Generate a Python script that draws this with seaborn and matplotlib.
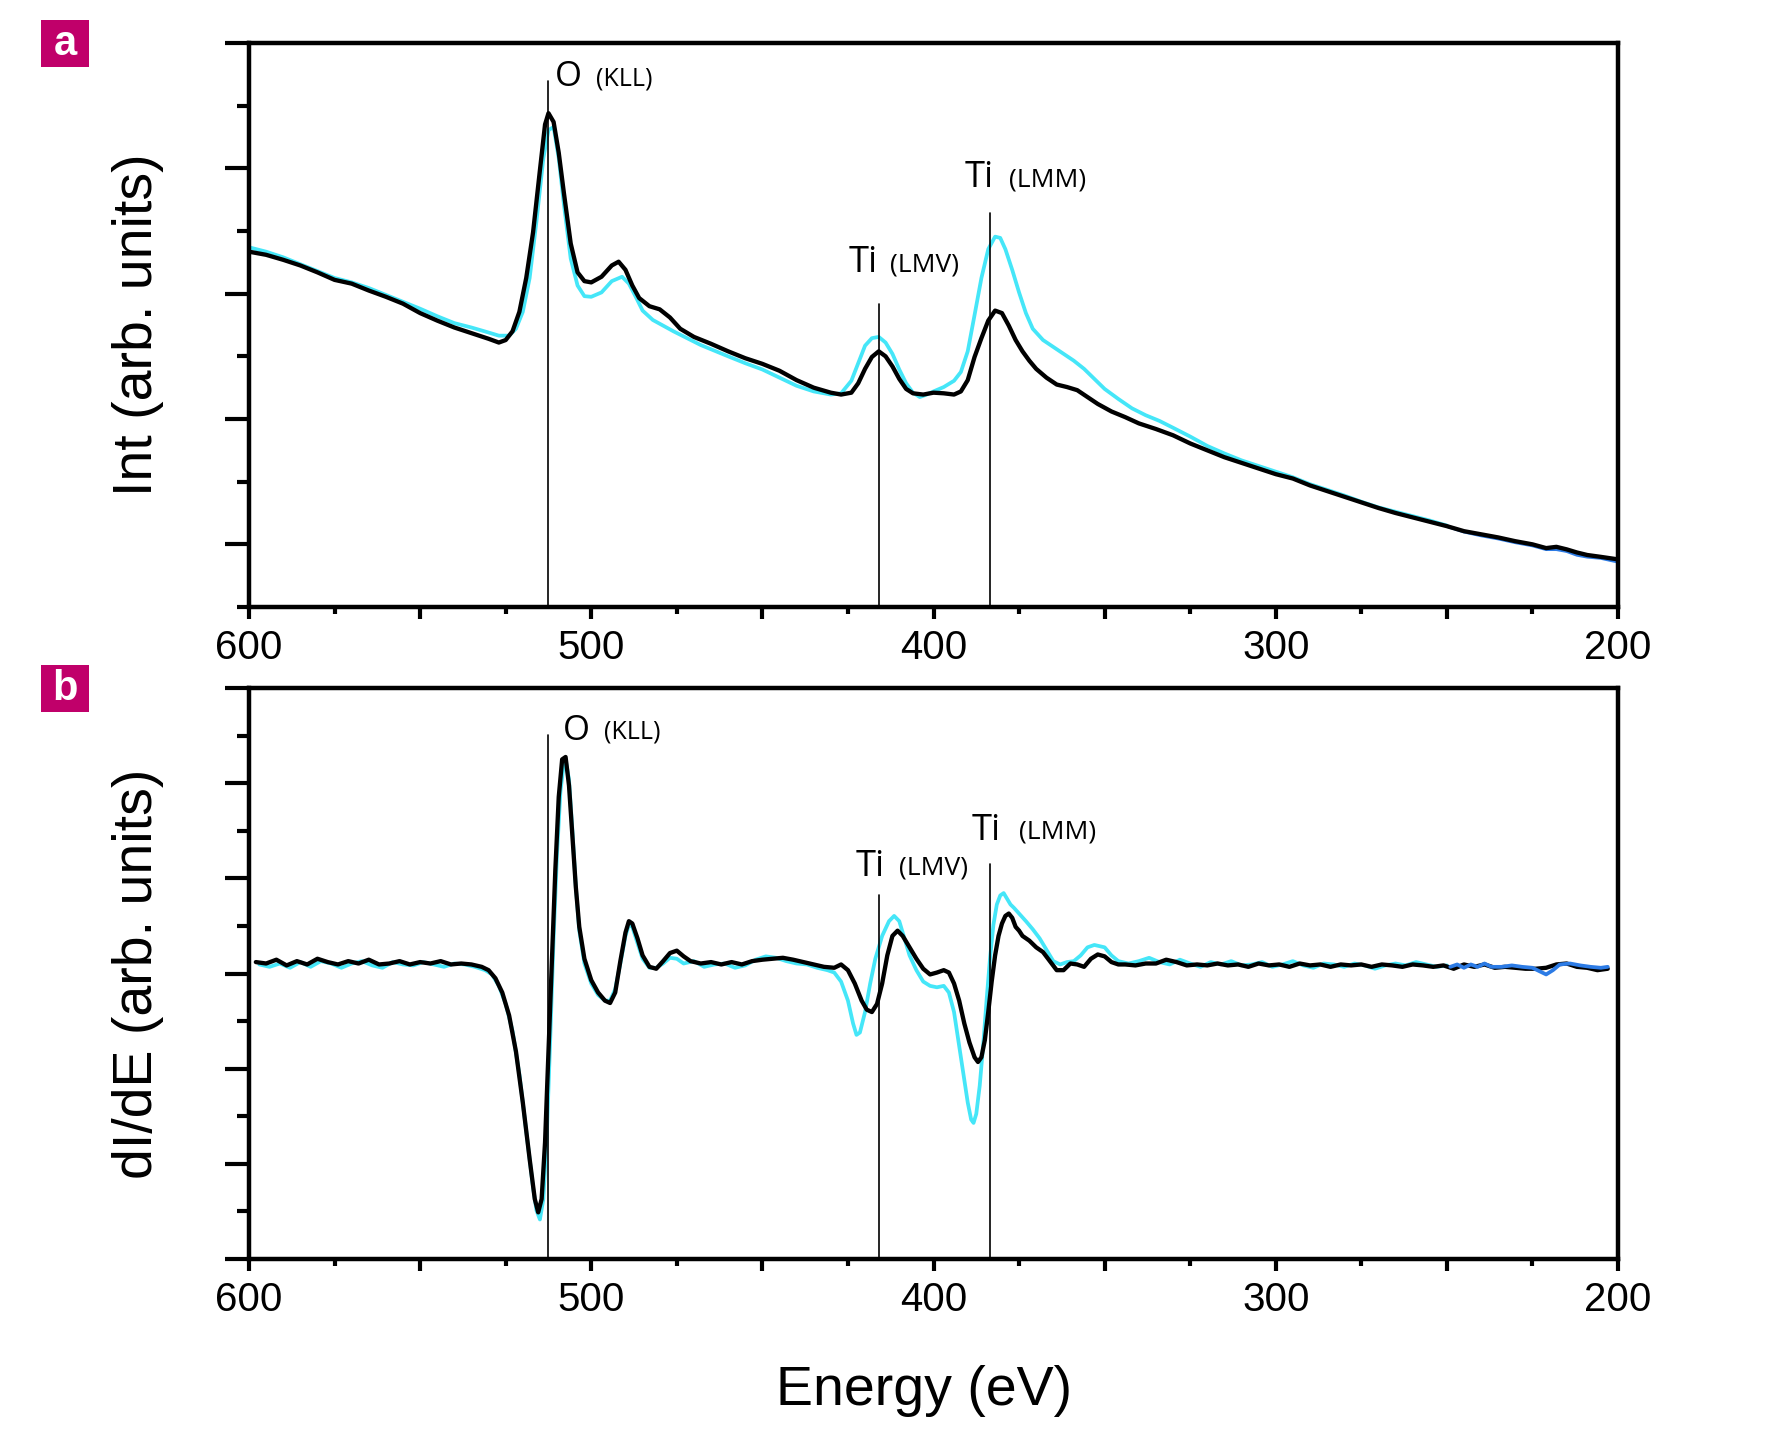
import numpy as np
import pandas as pd
import matplotlib
matplotlib.use("Agg")
import matplotlib.pyplot as plt
import matplotlib.patches as patches
from matplotlib.ticker import FixedLocator, FuncFormatter, MultipleLocator
import seaborn as sns

# ---------------- data ----------------
# Panel a: Auger intensity (arb. units)
a_black_E = [600, 595, 590, 585, 580, 575, 570, 565, 560, 555, 550, 545, 540, 535, 530, 527, 525, 523, 521, 519,
             517, 515, 513.5, 512.5, 511, 509.5, 508, 506, 504, 502, 500, 497, 494, 492, 490, 488, 486, 483, 480, 477,
             474, 470, 465, 460, 455, 450, 445, 440, 435, 430, 427, 424, 422, 420, 418, 416, 414, 412, 410, 408,
             406, 403, 400, 397, 394, 392, 390, 388, 386, 384, 382, 380, 378, 376, 374, 372, 370, 367, 364, 361,
             358, 355, 352, 348, 344, 340, 335, 330, 325, 320, 315, 310, 305, 300, 295, 290, 285, 280, 275, 270,
             265, 260, 255, 250, 245, 240, 235, 230, 225, 221, 218, 215, 212, 209, 205, 200]
a_black_I = [5.67, 5.62, 5.54, 5.45, 5.34, 5.22, 5.16, 5.05, 4.95, 4.84, 4.69, 4.57, 4.46, 4.37, 4.28, 4.22, 4.26, 4.40, 4.71, 5.25,
             5.98, 6.97, 7.70, 7.88, 7.74, 7.25, 6.61, 5.80, 5.34, 5.20, 5.18, 5.27, 5.45, 5.51, 5.38, 5.13, 4.93, 4.80, 4.75, 4.62,
             4.44, 4.31, 4.20, 4.08, 3.97, 3.88, 3.77, 3.62, 3.50, 3.42, 3.39, 3.42, 3.57, 3.80, 3.99, 4.08, 4.00, 3.84, 3.64, 3.48,
             3.41, 3.39, 3.42, 3.41, 3.39, 3.44, 3.62, 3.99, 4.29, 4.57, 4.73, 4.69, 4.49, 4.26, 4.08, 3.93, 3.80, 3.66, 3.55, 3.51,
             3.46, 3.35, 3.24, 3.12, 3.03, 2.93, 2.84, 2.74, 2.61, 2.50, 2.39, 2.30, 2.21, 2.12, 2.05, 1.94, 1.85, 1.76, 1.67, 1.58,
             1.50, 1.43, 1.36, 1.29, 1.21, 1.16, 1.11, 1.05, 1.00, 0.94, 0.96, 0.92, 0.87, 0.83, 0.80, 0.76]

a_cyan_E = [600, 595, 590, 585, 580, 575, 570, 565, 560, 555, 550, 545, 540, 535, 530, 527, 524, 522, 520, 518,
            516, 514, 512.5, 511, 509.5, 508, 506, 504, 502, 500, 497, 494, 491, 489, 487, 485, 482, 479, 476, 472,
            468, 464, 460, 455, 450, 445, 440, 435, 430, 427, 424, 422, 420, 418, 416, 414, 412, 410, 408, 406,
            404, 402, 400, 397, 394, 392, 390, 388, 386, 384, 382, 380.5, 379, 377, 375, 373, 371, 368, 365, 362,
            359, 356, 353, 350, 346, 342, 338, 334, 330, 325, 320, 315, 310, 305, 300, 295, 290, 285, 280, 275,
            270, 265, 260, 255, 250]
a_cyan_I = [5.74, 5.67, 5.58, 5.47, 5.36, 5.25, 5.18, 5.09, 4.98, 4.87, 4.76, 4.64, 4.53, 4.46, 4.38, 4.33, 4.33, 4.44, 4.71, 5.25,
            6.16, 7.16, 7.61, 7.66, 7.16, 6.43, 5.56, 5.13, 4.96, 4.95, 5.02, 5.20, 5.27, 5.16, 4.95, 4.73, 4.58, 4.49, 4.40, 4.29,
            4.18, 4.09, 4.00, 3.89, 3.79, 3.66, 3.53, 3.44, 3.39, 3.41, 3.61, 3.89, 4.17, 4.29, 4.31, 4.22, 4.04, 3.79, 3.57, 3.42,
            3.35, 3.39, 3.44, 3.51, 3.61, 3.75, 4.08, 4.66, 5.25, 5.71, 5.91, 5.89, 5.71, 5.38, 5.02, 4.69, 4.44, 4.26, 4.15, 4.04,
            3.93, 3.80, 3.64, 3.48, 3.32, 3.17, 3.06, 2.97, 2.86, 2.72, 2.57, 2.45, 2.34, 2.25, 2.16, 2.07, 1.96, 1.87, 1.78, 1.68,
            1.59, 1.52, 1.45, 1.38, 1.30]

a_blue_E = [250, 245, 240, 235, 230, 225, 221, 218, 215, 212, 209, 205, 200]
a_blue_I = [1.29, 1.20, 1.14, 1.09, 1.03, 0.98, 0.92, 0.92, 0.89, 0.83, 0.80, 0.78, 0.72]

# Panel b: derivative spectra dI/dE (arb. units)
b_black_E = [598, 595, 592, 589, 586, 583, 580, 577, 574, 571, 568, 565, 562, 559, 556, 553, 550, 547, 544, 541,
             538, 535, 532, 530, 528, 526, 524, 522, 520, 518, 516.5, 515.5, 514.5, 513.5, 512.5, 511.5, 510.5, 509.5, 508.5, 507.5,
             506.5, 505.5, 504.5, 503.5, 502, 500, 498, 496, 494.5, 493, 491.5, 490, 489, 488, 486.5, 485, 483, 481, 479, 477,
             475, 473, 471, 468, 465, 462, 459, 456, 453, 450, 447, 444, 441, 438, 435, 432, 429, 427, 425, 423,
             421, 419.5, 418, 416.5, 415, 413.5, 412, 410.5, 409, 407, 405, 403, 401, 399, 397, 395.5, 394, 392.5, 391, 389.5,
             388, 387, 386, 385, 384, 383, 382, 381, 380, 379, 378, 377, 376, 375, 374, 372, 370, 368, 366, 364,
             362, 360, 358, 356, 354, 352, 350, 348, 346, 344, 341, 338, 335, 332, 329, 326, 323, 320, 317, 314,
             311, 308, 305, 302, 299, 296, 293, 290, 287, 284, 281, 278, 275, 272, 269, 266, 263, 260, 257, 254,
             251, 248, 245, 242, 239, 236, 233, 230, 227, 224, 221, 218, 215, 212, 209, 206, 203]
b_black_D = [0.24, 0.21, 0.29, 0.17, 0.26, 0.19, 0.31, 0.24, 0.19, 0.26, 0.21, 0.29, 0.19, 0.21, 0.26, 0.19, 0.24, 0.21, 0.26, 0.19,
             0.21, 0.19, 0.14, 0.07, -0.10, -0.40, -0.88, -1.64, -2.71, -3.90, -4.74, -5.02, -4.74, -3.55, -1.64, 0.26, 2.17, 3.71, 4.50, 4.55,
             3.95, 2.88, 1.81, 0.98, 0.31, -0.14, -0.40, -0.57, -0.62, -0.40, 0.26, 0.86, 1.10, 1.05, 0.74, 0.38, 0.14, 0.10, 0.26, 0.43,
             0.48, 0.36, 0.26, 0.21, 0.24, 0.19, 0.24, 0.19, 0.26, 0.29, 0.31, 0.33, 0.29, 0.24, 0.19, 0.14, 0.12, 0.19, 0.07, -0.21,
             -0.57, -0.76, -0.81, -0.64, -0.21, 0.38, 0.79, 0.90, 0.79, 0.55, 0.31, 0.10, -0.02, 0.02, 0.07, 0.02, -0.21, -0.57, -1.05, -1.45,
             -1.76, -1.86, -1.76, -1.40, -0.81, -0.17, 0.38, 0.79, 1.05, 1.21, 1.26, 1.17, 0.98, 0.90, 0.79, 0.69, 0.55, 0.45, 0.26, 0.07,
             0.07, 0.21, 0.19, 0.14, 0.31, 0.40, 0.36, 0.24, 0.19, 0.19, 0.17, 0.21, 0.21, 0.29, 0.24, 0.17, 0.19, 0.17, 0.21, 0.17,
             0.19, 0.14, 0.21, 0.17, 0.19, 0.14, 0.21, 0.17, 0.19, 0.14, 0.19, 0.17, 0.19, 0.14, 0.19, 0.17, 0.14, 0.19, 0.17, 0.14,
             0.17, 0.10, 0.19, 0.14, 0.19, 0.12, 0.14, 0.12, 0.10, 0.10, 0.12, 0.19, 0.21, 0.14, 0.12, 0.07, 0.10]

b_cyan_E = [597, 594, 591, 588, 585, 582, 579, 576, 573, 570, 567, 564, 561, 558, 555, 552, 549, 546, 543, 540,
            537, 534, 531, 529, 527, 525, 523, 521, 519, 517, 516, 515, 514, 513, 512, 511, 510, 509, 508, 507.5,
            506.5, 505.5, 504.5, 503.5, 502, 500, 498, 496, 494.5, 493, 491.5, 490, 489, 488, 486.5, 485, 483, 481, 479, 477,
            475, 473, 470, 467, 464, 461, 458, 455, 452, 449, 446, 443, 440, 437, 434, 431, 429, 427, 425, 423.5,
            422.5, 421.5, 420, 418.5, 417, 415, 413, 411.5, 410, 408.5, 407, 405, 403, 401, 399, 397, 395.5, 394, 392.5, 391,
            390, 389, 388.3, 387.5, 386.5, 385.5, 384.5, 383.5, 382.5, 381.5, 380.5, 379.5, 378.5, 377.5, 376.5, 375, 373, 371, 369, 367,
            365, 363, 361, 359, 357, 355, 353, 350, 348, 346, 343, 340, 337, 334, 331, 328, 325, 322, 319, 316,
            313, 310, 307, 304, 301, 298, 295, 292, 289, 286, 283, 280, 277, 274, 271, 268, 265, 262, 259, 256,
            253, 250]
b_cyan_D = [0.19, 0.14, 0.21, 0.12, 0.24, 0.14, 0.26, 0.21, 0.12, 0.21, 0.26, 0.17, 0.12, 0.24, 0.19, 0.17, 0.24, 0.19, 0.14, 0.21,
            0.19, 0.14, 0.07, -0.02, -0.26, -0.64, -1.21, -2.12, -3.31, -4.50, -4.98, -5.17, -4.74, -3.43, -1.40, 0.74, 2.52, 3.83, 4.43, 4.50,
            4.07, 3.00, 1.81, 0.90, 0.21, -0.21, -0.45, -0.57, -0.57, -0.33, 0.21, 0.79, 1.02, 0.98, 0.64, 0.31, 0.12, 0.12, 0.21, 0.33,
            0.31, 0.21, 0.26, 0.14, 0.19, 0.21, 0.12, 0.17, 0.29, 0.36, 0.33, 0.26, 0.21, 0.19, 0.12, 0.07, 0.02, -0.17, -0.57, -1.05,
            -1.29, -1.24, -0.81, -0.21, 0.31, 0.79, 1.10, 1.21, 1.10, 0.74, 0.38, 0.07, -0.17, -0.26, -0.29, -0.26, -0.40, -0.81, -1.52, -2.24,
            -2.71, -3.07, -3.14, -2.95, -2.36, -1.52, -0.57, 0.31, 1.02, 1.45, 1.64, 1.69, 1.57, 1.45, 1.38, 1.26, 1.10, 0.93, 0.74, 0.50,
            0.26, 0.19, 0.24, 0.26, 0.38, 0.55, 0.60, 0.55, 0.38, 0.26, 0.21, 0.26, 0.33, 0.24, 0.19, 0.29, 0.21, 0.14, 0.24, 0.19,
            0.26, 0.17, 0.19, 0.24, 0.14, 0.19, 0.26, 0.17, 0.12, 0.21, 0.19, 0.14, 0.21, 0.17, 0.10, 0.17, 0.21, 0.17, 0.24, 0.19,
            0.14, 0.17]

b_blue_E = [249, 247, 245, 243, 241, 239, 237, 234, 231, 228, 225, 223, 221, 219, 217, 214, 211, 208, 205, 203]
b_blue_D = [0.14, 0.19, 0.12, 0.19, 0.14, 0.21, 0.14, 0.14, 0.17, 0.14, 0.12, 0.05, -0.02, 0.07, 0.19, 0.21, 0.17, 0.14, 0.12, 0.14]

# Auger transitions: energies and labels
peak_E = [512.7, 415.9, 383.5]
peak_main = ["O", "Ti", "Ti"]
peak_sub = ["(KLL)", "(LMV)", "(LMM)"]
a_line_top = [8.39, 4.84, 6.29]
b_line_top = [5.02, 1.64, 2.31]
a_label_pos = [(510.7, 8.46, 498.5), (424.8, 5.49, 412.6), (391.0, 6.85, 378.0)]
b_label_pos = [(508.4, 5.10, 496.2), (422.8, 2.24, 410.0), (389.0, 3.00, 375.0)]

x_major = [600, 550, 500, 450, 400, 350, 300, 250, 200]

# ---------------- styling ----------------
sns.set_theme(style="ticks")
plt.rcParams["font.family"] = ["Liberation Sans", "DejaVu Sans"]
plt.rcParams["text.color"] = "black"
plt.rcParams["axes.labelcolor"] = "black"
plt.rcParams["xtick.color"] = "black"
plt.rcParams["ytick.color"] = "black"
plt.rcParams["xtick.labelcolor"] = "black"
plt.rcParams["ytick.labelcolor"] = "black"
plt.rcParams["lines.solid_joinstyle"] = "round"
plt.rcParams["lines.solid_capstyle"] = "round"

BLACK = "#000000"
CYAN = "#45E6F8"
BLUE = "#2C7BE5"
MAGENTA = "#C0006A"

W, H = 1773, 1438
fig = plt.figure(figsize=(W / 100, H / 100), dpi=100)
ax_a = fig.add_axes([249 / W, 1 - 607 / H, (1618 - 249) / W, (607 - 43) / H])
ax_b = fig.add_axes([249 / W, 1 - 1259 / H, (1618 - 249) / W, (1259 - 688) / H])


def series(E, v, name):
    return pd.DataFrame({"E": E, "v": v, "s": name})


def draw(ax, frames, order):
    for name, color, lw in order:
        d = frames[name]
        sns.lineplot(data=d, x="E", y="v", ax=ax, color=color, linewidth=lw,
                     estimator=None, sort=False, legend=False)


frames_a = {"cyan": series(a_cyan_E, a_cyan_I, "cyan"),
            "blue": series(a_blue_E, a_blue_I, "blue"),
            "black": series(a_black_E, a_black_I, "black")}
frames_b = {"cyan": series(b_cyan_E, b_cyan_D, "cyan"),
            "black": series(b_black_E, b_black_D, "black"),
            "blue": series(b_blue_E, b_blue_D, "blue")}

draw(ax_a, frames_a, [("cyan", CYAN, 2.7), ("blue", BLUE, 2.4), ("black", BLACK, 3.1)])
draw(ax_b, frames_b, [("cyan", CYAN, 2.7), ("black", BLACK, 3.1), ("blue", BLUE, 2.7)])

ax_a.set_ylim(0, 9)
ax_b.set_ylim(-6, 6)

ann_font = ["Open Sans", "DejaVu Sans"]
for ax, tops, pos, ybot in [(ax_a, a_line_top, a_label_pos, 0), (ax_b, b_line_top, b_label_pos, -6)]:
    for i, e in enumerate(peak_E):
        ax.plot([e, e], [ybot, tops[i]], color="black", linewidth=1.2, zorder=5)
        xm, ym, xs = pos[i]
        big = 25 if peak_main[i] == "O" else 26
        small = 18 if peak_main[i] == "O" else 19
        ax.text(xm, ym, peak_main[i], fontsize=big, family=ann_font, ha="left", va="center", color="black")
        ax.text(xs, ym - 0.03, peak_sub[i], fontsize=small, family=ann_font, ha="left", va="center", color="black")

for ax in (ax_a, ax_b):
    ax.set_xlim(600, 200)
    ax.xaxis.set_major_locator(FixedLocator(x_major))
    ax.xaxis.set_minor_locator(MultipleLocator(25))
    ax.xaxis.set_major_formatter(FuncFormatter(lambda v, p: f"{int(round(v))}" if int(round(v)) % 100 == 0 else ""))
    ax.yaxis.set_major_formatter(FuncFormatter(lambda v, p: ""))
    ax.tick_params(axis="x", which="major", direction="out", length=8.5, width=3, labelsize=29, pad=7,
                   color="black", labelcolor="black")
    ax.tick_params(axis="x", which="minor", direction="out", length=5, width=3, color="black")
    ax.tick_params(axis="y", which="major", direction="out", length=17, width=3, color="black")
    ax.tick_params(axis="y", which="minor", direction="out", length=8.5, width=3, color="black")
    for sp in ax.spines.values():
        sp.set_linewidth(3.2)
        sp.set_color("black")
        sp.set_visible(True)
    ax.set_xlabel("")
    ax.set_facecolor("white")

ax_a.yaxis.set_major_locator(FixedLocator([1, 3, 5, 7, 9]))
ax_a.yaxis.set_minor_locator(FixedLocator([0, 2, 4, 6, 8]))
ax_b.yaxis.set_major_locator(FixedLocator([-6, -4, -2, 0, 2, 4, 6]))
ax_b.yaxis.set_minor_locator(FixedLocator([-5, -3, -1, 1, 3, 5]))

ax_a.set_ylabel("Int (arb. units)", fontsize=40, color="black")
ax_b.set_ylabel("dI/dE (arb. units)", fontsize=40, color="black")
ax_a.yaxis.set_label_coords(-0.062, 0.5)
ax_b.yaxis.set_label_coords(-0.062, 0.5)

fig.text(924 / W, 1 - 1405 / H, "Energy (eV)", fontsize=40, ha="center", va="baseline", color="black")

# panel letters
for letter, ytop in [("a", 20), ("b", 665)]:
    fig.patches.append(patches.Rectangle((41 / W, 1 - (ytop + 47) / H), 48 / W, 47 / H,
                                         transform=fig.transFigure, facecolor=MAGENTA, edgecolor="none"))
    fig.text(65 / W, 1 - (ytop + 24) / H, letter, color="white", fontsize=30, fontweight="bold",
             ha="center", va="center")

fig.savefig("out.png", dpi=100, facecolor="white")
